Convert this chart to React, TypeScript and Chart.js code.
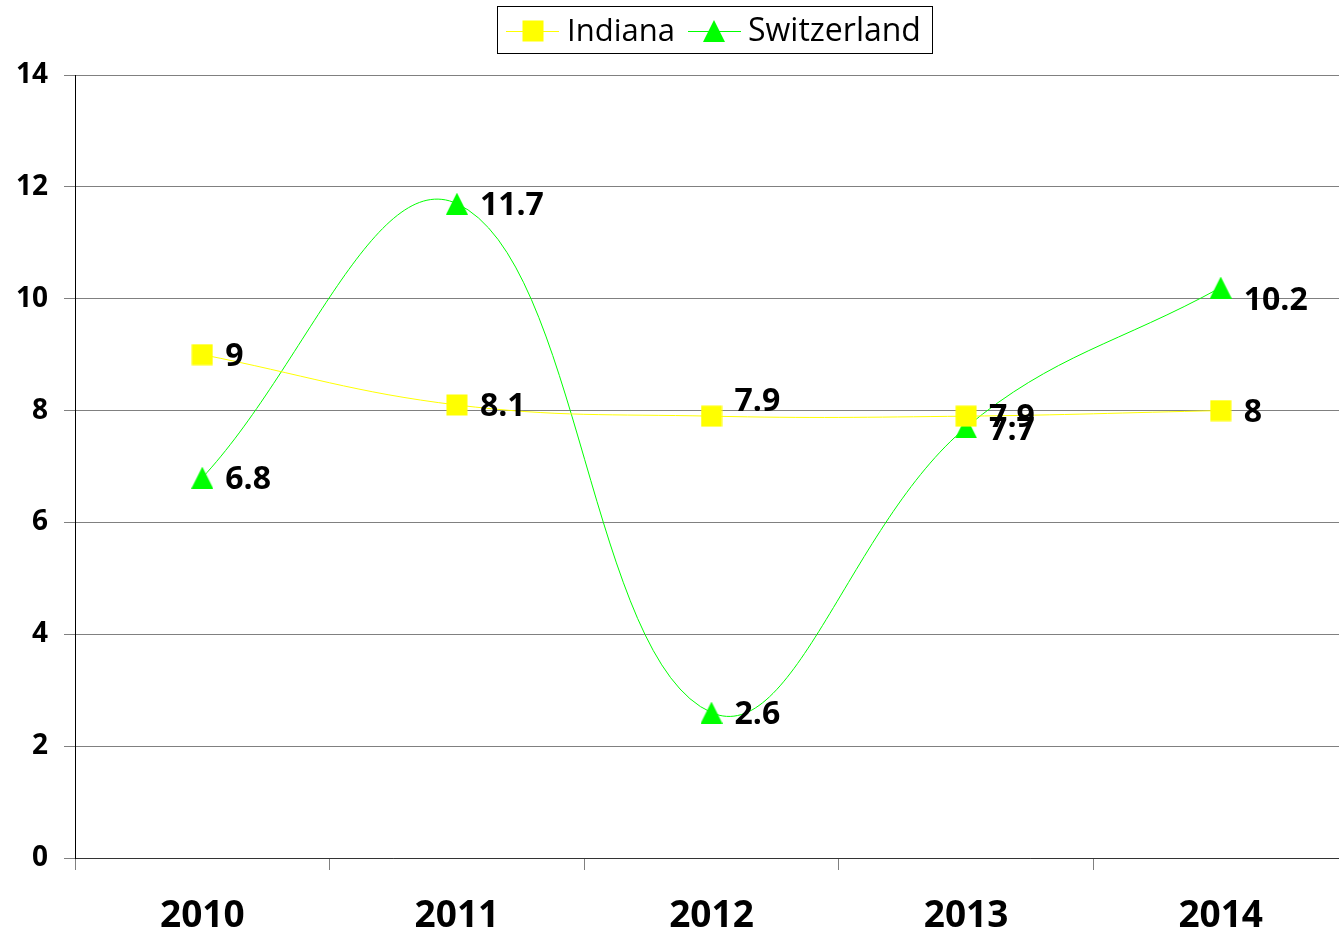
import React, { useEffect, useRef } from "react";
import { Chart, registerables } from "chart.js";

Chart.register(...registerables);

const categories = ["2010", "2011", "2012", "2013", "2014"];
const indiana = [9, 8.1, 7.9, 7.9, 8];
const switzerland = [6.8, 11.7, 2.6, 7.7, 10.2];
const seriesNames = ["Indiana", "Switzerland"];
const yTicks = [0, 2, 4, 6, 8, 10, 12, 14];

const YELLOW = "#FFFF00";
const GREEN = "#00FF00";
const FONT = "'Open Sans', 'Noto Sans', sans-serif";

// label nudges (style only, in px)
const indianaLabelDy = [0, 0, -16, 0, 0];
const switzerlandLabelDy = [0, 0, 0, 2, 11];

const CANVAS_W = 1348;
const VIEW_W = 1339;
const VIEW_H = 933;

function makeMarker(kind: "square" | "triangle", color: string): HTMLCanvasElement {
  const c = document.createElement("canvas");
  const s = 22;
  c.width = s;
  c.height = s;
  const ctx = c.getContext("2d")!;
  ctx.fillStyle = color;
  if (kind === "square") {
    ctx.fillRect(0.5, 0.5, 21, 21);
  } else {
    ctx.beginPath();
    ctx.moveTo(s / 2, 0);
    ctx.lineTo(s, s);
    ctx.lineTo(0, s);
    ctx.closePath();
    ctx.fill();
  }
  return c;
}

export default function App() {
  const ref = useRef<HTMLCanvasElement | null>(null);

  useEffect(() => {
    document.body.style.margin = "0";
    const canvas = ref.current!;
    const square = makeMarker("square", YELLOW);
    const tri = makeMarker("triangle", GREEN);

    const legendPlugin = {
      id: "customLegend",
      afterDraw(chart: any) {
        const ctx = chart.ctx as CanvasRenderingContext2D;
        ctx.save();
        ctx.strokeStyle = "#000";
        ctx.lineWidth = 1;
        ctx.strokeRect(497.5, 6.5, 435, 47);
        const cy = 31;
        ctx.strokeStyle = YELLOW;
        ctx.beginPath();
        ctx.moveTo(506, cy + 0.5);
        ctx.lineTo(559, cy + 0.5);
        ctx.stroke();
        ctx.drawImage(square, 522, 20);
        ctx.strokeStyle = GREEN;
        ctx.beginPath();
        ctx.moveTo(688, cy + 0.5);
        ctx.lineTo(741, cy + 0.5);
        ctx.stroke();
        ctx.drawImage(tri, 703, 20);
        ctx.fillStyle = "#000";
        ctx.textBaseline = "middle";
        ctx.textAlign = "left";
        ctx.font = `31px ${FONT}`;
        ctx.fillText(seriesNames[0], 567, cy + 1);
        ctx.font = `32px ${FONT}`;
        ctx.fillText(seriesNames[1], 748, cy + 1);
        ctx.restore();
      },
    };

    const labelPlugin = {
      id: "valueLabels",
      afterDatasetsDraw(chart: any) {
        const ctx = chart.ctx as CanvasRenderingContext2D;
        ctx.save();
        ctx.fillStyle = "#000";
        ctx.font = `bold 32px ${FONT}`;
        ctx.textBaseline = "middle";
        ctx.textAlign = "left";
        const dys = [indianaLabelDy, switzerlandLabelDy];
        chart.data.datasets.forEach((ds: any, di: number) => {
          const meta = chart.getDatasetMeta(di);
          meta.data.forEach((pt: any, i: number) => {
            ctx.fillText(String(ds.data[i]), pt.x + 23, pt.y + 2 + dys[di][i]);
          });
        });
        ctx.restore();
      },
    };

    const chart = new Chart(canvas, {
      type: "line",
      data: {
        labels: categories,
        datasets: [
          {
            label: seriesNames[0],
            data: indiana,
            borderColor: YELLOW,
            backgroundColor: YELLOW,
            borderWidth: 1,
            pointStyle: square as any,
            tension: 0.4,
            fill: false,
          },
          {
            label: seriesNames[1],
            data: switzerland,
            borderColor: GREEN,
            backgroundColor: GREEN,
            borderWidth: 1,
            pointStyle: tri as any,
            tension: 0.4,
            fill: false,
          },
        ],
      },
      options: {
        animation: false,
        responsive: false,
        maintainAspectRatio: false,
        layout: { autoPadding: false, padding: { top: 75, left: 1, right: 0, bottom: 0 } },
        plugins: {
          legend: { display: false },
          tooltip: { enabled: false },
        },
        scales: {
          x: {
            type: "category",
            offset: true,
            grid: {
              display: true,
              offset: true,
              drawOnChartArea: false,
              drawTicks: true,
              tickLength: 12,
              color: "#808080",
            },
            border: { display: true, color: "#333", width: 1 },
            ticks: {
              color: "#000",
              font: { family: FONT, size: 37, weight: "bold" },
              padding: 24,
            },
            afterFit(scale: any) {
              scale.height = 75;
            },
          },
          y: {
            min: 0,
            max: 14,
            afterBuildTicks(scale: any) {
              scale.ticks = yTicks.map((v) => ({ value: v }));
            },
            grid: {
              color: "#808080",
              tickLength: 11,
              drawTicks: true,
            },
            border: { display: true, color: "#000", width: 1 },
            ticks: {
              color: "#000",
              font: { family: FONT, size: 28, weight: "bold" },
              padding: 16,
            },
            afterFit(scale: any) {
              scale.width = 74;
            },
          },
        },
      },
      plugins: [legendPlugin, labelPlugin],
    });

    return () => chart.destroy();
  }, []);

  return (
    <div
      style={{
        position: "absolute",
        left: 0,
        top: 0,
        width: VIEW_W,
        height: VIEW_H,
        overflow: "hidden",
        background: "#fff",
      }}
    >
      <canvas ref={ref} width={CANVAS_W} height={VIEW_H} style={{ width: CANVAS_W, height: VIEW_H, display: "block" }} />
    </div>
  );
}
